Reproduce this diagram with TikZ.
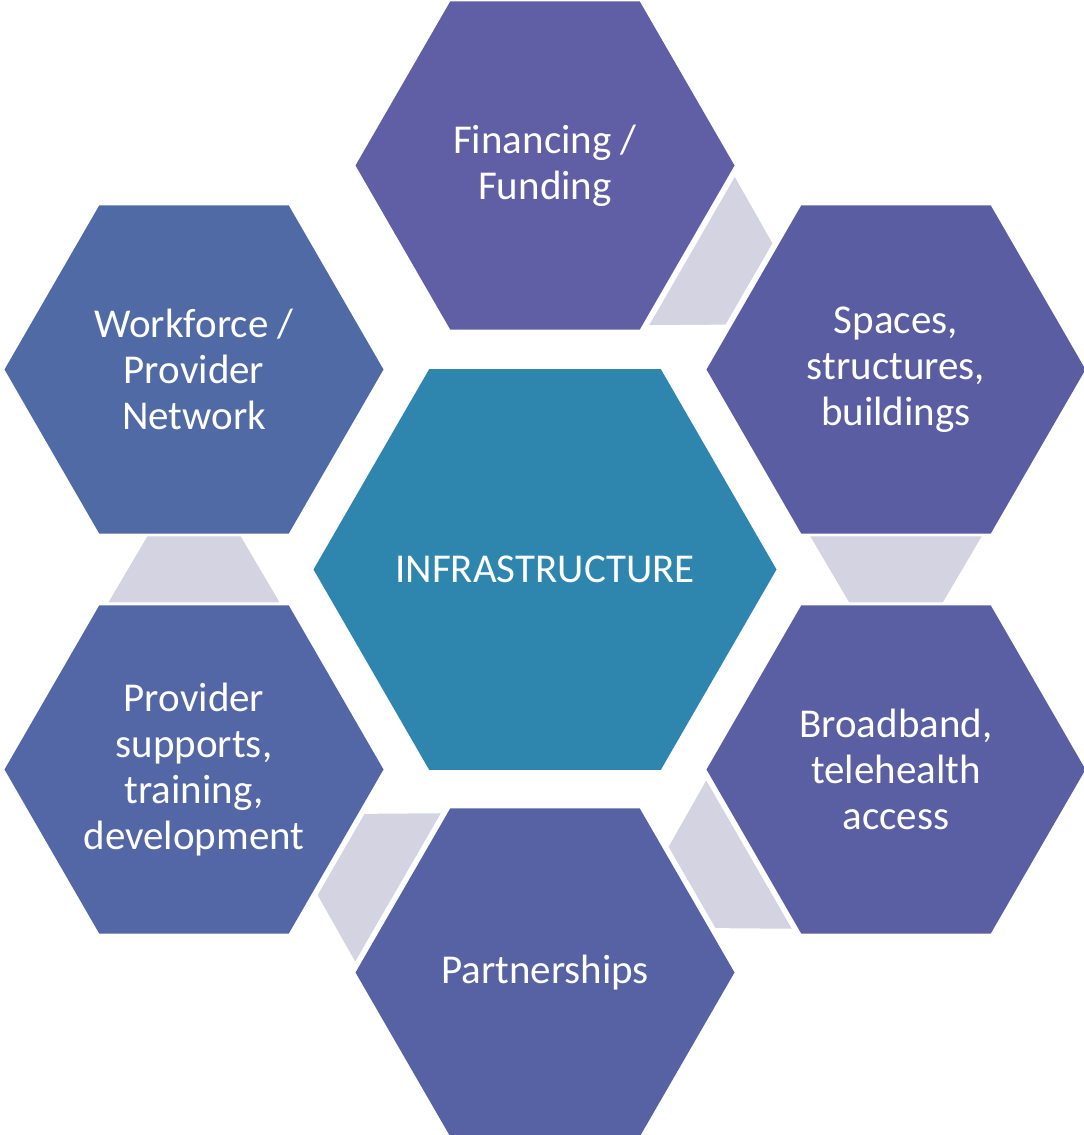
\documentclass[tikz,border=0pt]{standalone}
\usepackage{fontspec}
\setmainfont{Carlito}
\usetikzlibrary{shapes.geometric,calc}
\definecolor{cFin}{HTML}{605EA4}
\definecolor{cSpa}{HTML}{5B5DA3}
\definecolor{cBrd}{HTML}{595FA2}
\definecolor{cPrt}{HTML}{5662A3}
\definecolor{cSup}{HTML}{5366A6}
\definecolor{cWrk}{HTML}{506AA5}
\definecolor{cCen}{HTML}{2E86AF}
\definecolor{cLink}{HTML}{D3D3E1}
\begin{document}
\begin{tikzpicture}[x=0.75pt,y=0.75pt,
  hexbox/.style={regular polygon, regular polygon sides=6, minimum size=284.25pt,
    inner sep=0pt, outer sep=0pt, text=white, align=center,
    font=\fontsize{30.75pt}{34.5pt}\selectfont},
  centerhex/.style={hexbox, minimum size=347.25pt},
  hextext/.style={inner sep=0pt, text=white, align=center,
    font=\fontsize{30.75pt}{34.5pt}\selectfont},
  linkbox/.style={fill=cLink, draw=white, line width=1.5pt, line join=miter}]
\useasboundingbox (0,0) rectangle (1083,1135);
\coordinate (O) at (545,565.5);
\node[centerhex, fill=cCen] (core) at (O) {};
\node[hextext] (coretext) at (core.center) {INFRASTRUCTURE};
\node[hexbox, fill=cFin] (fin) at ($(O)+(0,404)$) {Financing /\\Funding};
\node[hexbox, fill=cSpa] (spa) at ($(O)+(351,200)$) {Spaces,\\structures,\\buildings};
\node[hexbox, fill=cBrd] (brd) at ($(O)+(351,-200)$) {Broadband,\\telehealth\\access};
\node[hexbox, fill=cPrt] (prt) at ($(O)+(0,-403)$) {Partnerships};
\node[hexbox, fill=cSup] (sup) at ($(O)+(-351,-200)$) {Provider\\supports,\\training,\\development};
\node[hexbox, fill=cWrk] (wrk) at ($(O)+(-351,200)$) {Workforce /\\Provider\\Network};
\foreach \a/\b/\ang in {fin/spa/-30, spa/brd/-90, brd/prt/-150, prt/sup/150, sup/wrk/90} {
  \begin{scope}[shift={($(\a.center)!0.5!(\b.center)$)}, rotate=\ang]
    \path[linkbox] (-34,-87.5) -- (-34,87.5) -- (34,47.5) -- (34,-47.5) -- cycle;
  \end{scope}
}
\end{tikzpicture}
\end{document}
